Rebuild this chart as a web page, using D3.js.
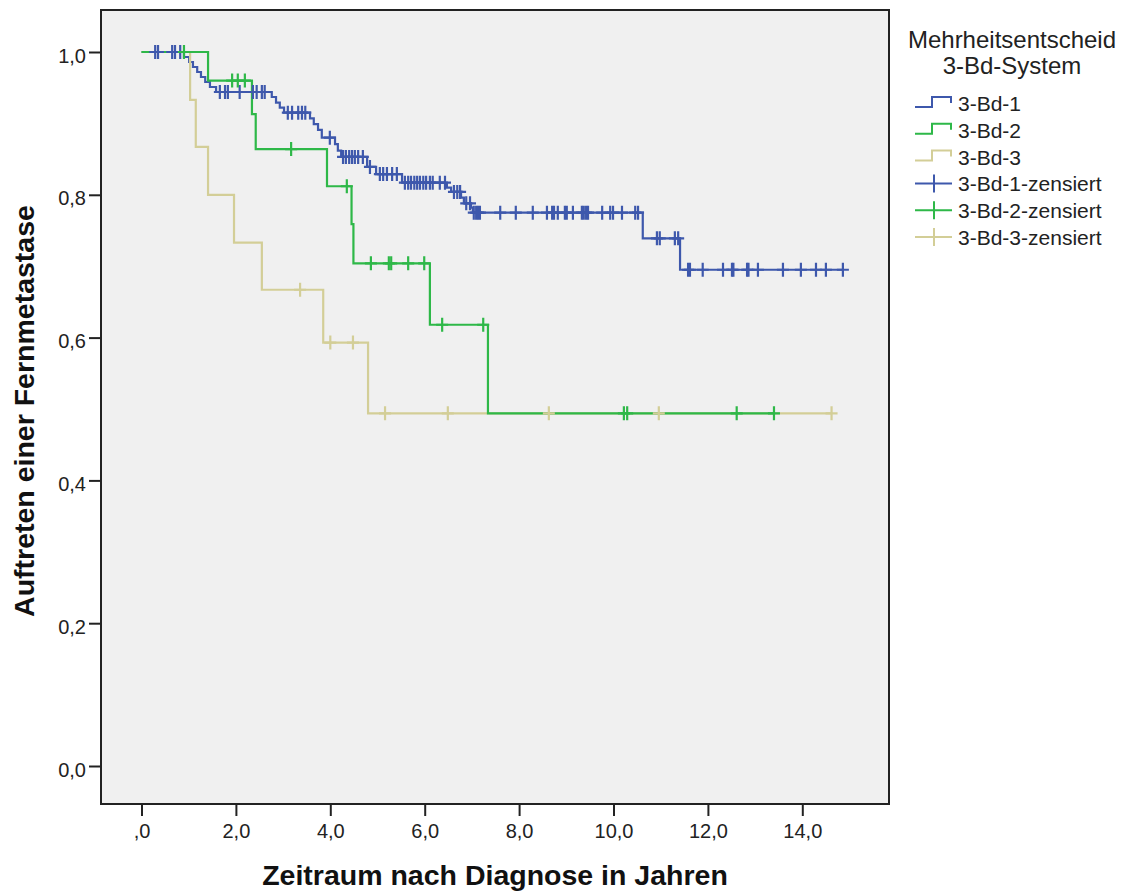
<!DOCTYPE html>
<html>
<head>
<meta charset="utf-8">
<script src="https://cdn.jsdelivr.net/npm/d3@7"></script>
<style>
  body { margin: 0; background: #fff; }
  svg { display: block; font-family: "Liberation Sans", Arial, sans-serif; }
</style>
</head>
<body>
<div id="chart"></div>
<script>
var w = 1128;
var h = 895;

// tick labels (German decimal comma)
var xTicks = [0, 2, 4, 6, 8, 10, 12, 14];
var xTickLabels = [",0", "2,0", "4,0", "6,0", "8,0", "10,0", "12,0", "14,0"];
var yTicks = [0, 0.2, 0.4, 0.6, 0.8, 1.0];
var yTickLabels = ["0,0", "0,2", "0,4", "0,6", "0,8", "1,0"];

var groups = ["3-Bd-1", "3-Bd-2", "3-Bd-3"];
var colors = ["#3e58ac", "#2eb848", "#d3ce97"];

// 3-Bd-1: event times (years) and survival after each event
var g1Times = [0.90, 1.01, 1.09, 1.18, 1.26, 1.35, 1.45, 1.58,
               2.76, 2.85, 2.93, 3.02, 3.57, 3.65, 3.74, 3.82,
               4.10, 4.16, 4.23, 4.78, 4.97, 5.52, 6.47, 6.56,
               6.77, 6.83, 6.98, 7.02, 10.62, 11.41];
var g1Surv = [0.993, 0.986, 0.979, 0.972, 0.965, 0.958, 0.951, 0.944,
              0.937, 0.929, 0.922, 0.915, 0.907, 0.899, 0.891, 0.880,
              0.871, 0.862, 0.853, 0.839, 0.829, 0.817, 0.810, 0.804,
              0.796, 0.788, 0.782, 0.775, 0.739, 0.695];
var g1Censored = [0.29, 0.35, 0.65, 0.71, 0.82, 1.66, 1.77, 1.83, 2.08,
                  2.36, 2.44, 2.55, 2.61, 3.10, 3.19, 3.32, 3.40, 3.47,
                  3.99, 4.27, 4.33, 4.40, 4.46, 4.52, 4.59, 4.69, 4.84,
                  5.05, 5.12, 5.20, 5.31, 5.41, 5.58, 5.65, 5.71, 5.78,
                  5.84, 5.90, 5.97, 6.03, 6.11, 6.17, 6.32, 6.43, 6.62,
                  6.69, 6.75, 6.88, 6.96, 7.04, 7.09, 7.13, 7.17, 7.60,
                  7.93, 8.29, 8.59, 8.70, 8.74, 8.82, 8.97, 9.01, 9.14,
                  9.33, 9.37, 9.42, 9.46, 9.76, 9.93, 9.99, 10.18, 10.46,
                  10.52, 10.92, 10.98, 11.30, 11.37, 11.58, 11.62, 11.89,
                  12.32, 12.51, 12.54, 12.83, 12.86, 13.06, 13.59, 13.97,
                  14.29, 14.50, 14.86];

// 3-Bd-2
var g2Times = [1.41, 2.34, 2.42, 3.93, 4.45, 4.49, 6.11, 7.34];
var g2Surv = [0.960, 0.913, 0.864, 0.812, 0.759, 0.704, 0.618, 0.494];
var g2Censored = [0.90, 1.92, 2.04, 2.19, 3.17, 4.35, 4.86, 5.24, 5.29,
                  5.65, 5.99, 6.37, 7.24, 10.22, 10.29, 12.61, 13.40];

// 3-Bd-3
var g3Times = [1.03, 1.15, 1.41, 1.96, 2.55, 3.85, 4.80];
var g3Surv = [0.933, 0.867, 0.800, 0.733, 0.667, 0.593, 0.494];
var g3Censored = [3.36, 4.00, 4.48, 5.16, 6.49, 8.63, 10.96, 14.62];

var series = [
  { name: groups[0], color: colors[0], times: g1Times, surv: g1Surv, cens: g1Censored },
  { name: groups[1], color: colors[1], times: g2Times, surv: g2Surv, cens: g2Censored },
  { name: groups[2], color: colors[2], times: g3Times, surv: g3Surv, cens: g3Censored }
];

var plot = { left: 101, right: 889, top: 10, bottom: 804 };

var xscale = d3.scaleLinear().domain([0, 15]).range([141.5, 849.5]);
var yscale = d3.scaleLinear().domain([0, 1]).range([766, 52]);

var svg = d3.select("#chart")
            .append("svg")
            .attr("width", w)
            .attr("height", h);

// plot background
svg.append("rect")
   .attr("x", plot.left)
   .attr("y", plot.top)
   .attr("width", plot.right - plot.left)
   .attr("height", plot.bottom - plot.top)
   .attr("fill", "#f0f0f0");

// survival value at time t (step function)
function survAt(s, t) {
    var v = 1;
    for (var i = 0; i < s.times.length; i++) {
        if (s.times[i] <= t) v = s.surv[i];
    }
    return v;
}

var stepLine = d3.line()
    .x(d => xscale(d[0]))
    .y(d => yscale(d[1]))
    .curve(d3.curveStepAfter);

function stepPoints(s) {
    var pts = [[0, 1]];
    s.times.forEach((t, i) => pts.push([t, s.surv[i]]));
    var end = Math.max(d3.max(s.times), d3.max(s.cens));
    pts.push([end, s.surv[s.surv.length - 1]]);
    return pts;
}

// draw order: blue, beige, green lines
[0, 2, 1].forEach(function(i) {
    var s = series[i];
    svg.append("path")
       .attr("d", stepLine(stepPoints(s)))
       .attr("fill", "none")
       .attr("stroke", s.color)
       .attr("stroke-width", 2.2);
});

// censor marks
[0, 2, 1].forEach(function(i) {
    var s = series[i];
    var g = svg.append("g").attr("stroke", s.color).attr("stroke-width", 2.2);
    g.selectAll("path")
     .data(s.cens)
     .enter()
     .append("path")
     .attr("d", function(t) {
         var cx = xscale(t), cy = yscale(survAt(s, t));
         return "M" + (cx - 6) + "," + cy + "H" + (cx + 6) +
                "M" + cx + "," + (cy - 7) + "V" + (cy + 7);
     });
});

// frame
svg.append("rect")
   .attr("x", plot.left)
   .attr("y", plot.top)
   .attr("width", plot.right - plot.left)
   .attr("height", plot.bottom - plot.top)
   .attr("fill", "none")
   .attr("stroke", "#222")
   .attr("stroke-width", 2);

// y axis
var yAxis = d3.axisLeft(yscale)
    .tickValues(yTicks)
    .tickSize(12)
    .tickPadding(3)
    .tickFormat((d, i) => yTickLabels[i]);
var yg = svg.append("g")
   .attr("transform", `translate(${plot.left}, 0)`)
   .call(yAxis);
yg.select(".domain").remove();
yg.selectAll("line").attr("stroke", "#222").attr("stroke-width", 2);
yg.selectAll("text")
  .attr("font-size", 20)
  .attr("font-family", "'Liberation Sans', Arial, sans-serif")
  .attr("fill", "#222")
  .attr("dy", "0.5em");

// x axis
var xAxis = d3.axisBottom(xscale)
    .tickValues(xTicks)
    .tickSize(12)
    .tickPadding(8)
    .tickFormat((d, i) => xTickLabels[i]);
var xg = svg.append("g")
   .attr("transform", `translate(0, ${plot.bottom})`)
   .call(xAxis);
xg.select(".domain").remove();
xg.selectAll("line").attr("stroke", "#222").attr("stroke-width", 2);
xg.selectAll("text")
  .attr("font-size", 20)
  .attr("font-family", "'Liberation Sans Narrow', 'Arial Narrow', 'Liberation Sans', sans-serif")
  .attr("fill", "#222");

// axis titles
svg.append("text")
   .attr("x", 495)
   .attr("y", 885)
   .attr("text-anchor", "middle")
   .attr("font-weight", "bold")
   .attr("font-size", 28.5)
   .attr("fill", "#111")
   .text("Zeitraum nach Diagnose in Jahren");

svg.append("text")
   .attr("transform", "translate(34, 411) rotate(-90)")
   .attr("text-anchor", "middle")
   .attr("font-weight", "bold")
   .attr("font-size", 28.5)
   .attr("fill", "#111")
   .text("Auftreten einer Fernmetastase");

// legend
svg.append("text")
   .attr("x", 1012)
   .attr("y", 48)
   .attr("text-anchor", "middle")
   .attr("font-size", 24)
   .attr("fill", "#222")
   .text("Mehrheitsentscheid");
svg.append("text")
   .attr("x", 1012)
   .attr("y", 74)
   .attr("text-anchor", "middle")
   .attr("font-size", 24)
   .attr("fill", "#222")
   .text("3-Bd-System");

var legendItems = groups.map((g, i) => ({ label: g, color: colors[i], type: "step" }))
    .concat(groups.map((g, i) => ({ label: g + "-zensiert", color: colors[i], type: "cross" })));

var leg = svg.selectAll("g.legend")
    .data(legendItems)
    .enter()
    .append("g")
    .attr("class", "legend")
    .attr("transform", (d, i) => `translate(915, ${103 + i * 26.8})`);

leg.append("path")
   .attr("d", d => d.type === "step"
        ? "M0,4H17V-6H36V0"
        : "M0,0H37M19,-9V9")
   .attr("fill", "none")
   .attr("stroke", d => d.color)
   .attr("stroke-width", 2);

leg.append("text")
   .attr("x", 43)
   .attr("y", 8)
   .attr("font-size", 21)
   .attr("fill", "#222")
   .text(d => d.label);
</script>
</body>
</html>
